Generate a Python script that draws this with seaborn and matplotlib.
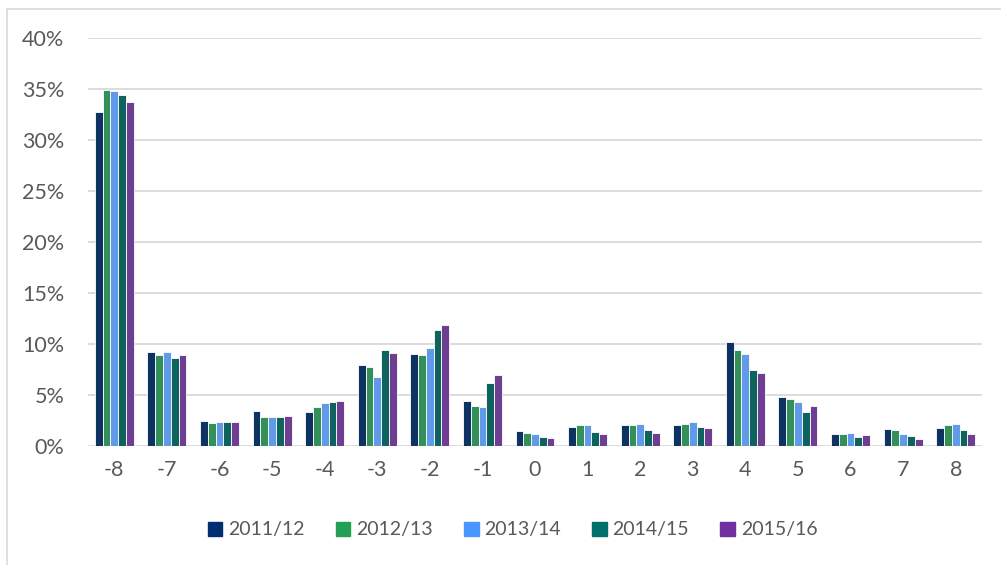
import numpy as np
import pandas as pd
import matplotlib
matplotlib.use("Agg")
import matplotlib.pyplot as plt
from matplotlib.patches import Rectangle
from matplotlib.ticker import PercentFormatter
import seaborn as sns

categories = ["-8", "-7", "-6", "-5", "-4", "-3", "-2", "-1", "0",
              "1", "2", "3", "4", "5", "6", "7", "8"]
years = ["2011/12", "2012/13", "2013/14", "2014/15", "2015/16"]

v_2011 = [32.7, 9.2, 2.5, 3.4, 3.3, 7.9, 9.0, 4.4, 1.5, 1.9, 2.1, 2.1, 10.2, 4.8, 1.2, 1.7, 1.8]
v_2012 = [34.9, 8.9, 2.3, 2.8, 3.8, 7.7, 8.9, 3.9, 1.3, 2.1, 2.1, 2.2, 9.4, 4.6, 1.2, 1.6, 2.1]
v_2013 = [34.8, 9.2, 2.4, 2.8, 4.2, 6.8, 9.6, 3.8, 1.2, 2.1, 2.2, 2.4, 9.0, 4.3, 1.3, 1.2, 2.2]
v_2014 = [34.4, 8.6, 2.4, 2.8, 4.3, 9.4, 11.4, 6.2, 0.9, 1.4, 1.6, 1.9, 7.5, 3.3, 0.9, 1.0, 1.6]
v_2015 = [33.7, 8.9, 2.4, 2.9, 4.4, 9.1, 11.9, 7.0, 0.8, 1.2, 1.3, 1.8, 7.2, 3.9, 1.1, 0.7, 1.2]

colors = ["#003070", "#23A055", "#4A96FF", "#00716C", "#7030A0"]

series = [v_2011, v_2012, v_2013, v_2014, v_2015]
rows = []
for yr, vals in zip(years, series):
    for c, v in zip(categories, vals):
        rows.append({"score": c, "year": yr, "pct": v})
df = pd.DataFrame(rows)

sns.set_style("white")
plt.rcParams["font.family"] = ["Lato", "DejaVu Sans"]

fig = plt.figure(figsize=(10.01, 5.65), dpi=100)
ax = fig.add_axes([88 / 1001, 1 - 446 / 565, (982 - 88) / 1001, (446 - 38) / 565])

sns.barplot(data=df, x="score", y="pct", hue="year", order=categories,
            hue_order=years, palette=colors, width=0.74, ax=ax,
            edgecolor="white", linewidth=0.6, errorbar=None, legend=False)

ax.set_ylim(0, 40)
ax.set_yticks(np.arange(0, 41, 5))
ax.yaxis.set_major_formatter(PercentFormatter(decimals=0))
ax.set_xlim(-0.5, len(categories) - 0.5)
ax.grid(axis="y", color="#D9D9D9", linewidth=1.3)
ax.set_axisbelow(True)
for s in ax.spines.values():
    s.set_visible(False)
ax.set_xlabel("")
ax.set_ylabel("")
ax.tick_params(axis="y", length=0, pad=17, labelsize=15.5, labelcolor="#595959")
ax.tick_params(axis="x", length=0, pad=10, labelsize=15.5, labelcolor="#595959")

handles = [Rectangle((0, 0), 1, 1, color=c) for c in colors]
fig.legend(handles, years, loc="center", bbox_to_anchor=(0.512, 1 - 530 / 565),
           ncol=5, frameon=False, fontsize=14, labelcolor="#595959",
           handlelength=0.75, handleheight=0.75, handletextpad=0.3,
           columnspacing=1.6)

# light frame around the chart area
fig.add_artist(Rectangle((6.5 / 1001, -0.01), 1.02, 1 - 8.5 / 565 + 0.01,
                         transform=fig.transFigure, fill=False,
                         edgecolor="#D9D9D9", linewidth=1.2))

fig.savefig("out.png", dpi=100)
